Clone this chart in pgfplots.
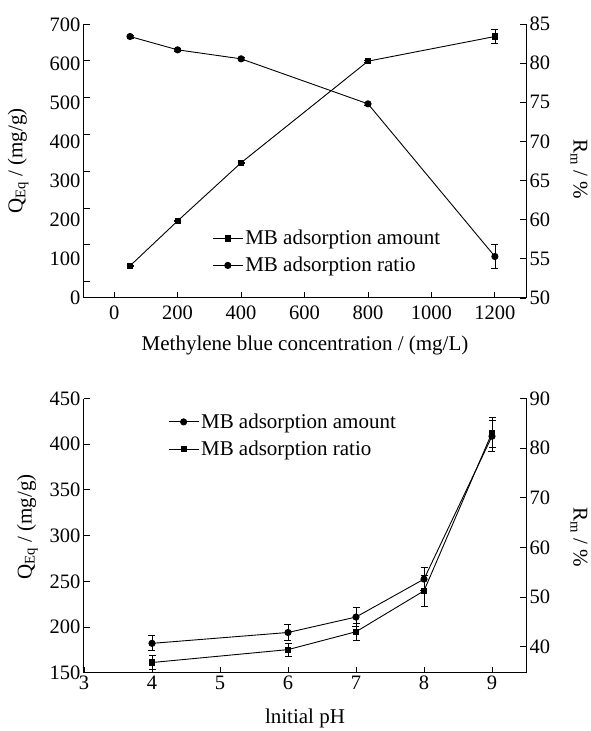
\documentclass[border=0pt]{standalone}
\usepackage{fontspec}
\setmainfont{Liberation Serif}
\usepackage{pgfplots}
\pgfplotsset{compat=1.18}
\begin{document}
\begin{tikzpicture}
\path[use as bounding box] (0pt,0pt) rectangle (590pt,731pt);
\pgfplotsset{
  base/.style={
    scale only axis, width=442pt, height=274pt,
    anchor=south west,
    axis line style={-, line width=1pt, black},
    tick align=inside,
    major tick length=6pt,
    tick style={line width=0.9pt, black},
    /pgf/number format/assume math mode=true,
    /pgf/number format/1000 sep={},
    scaled ticks=false,
    tick label style={font=\fontsize{20.5}{24}\selectfont},
    label style={font=\fontsize{21}{25}\selectfont},
    legend style={font=\fontsize{21}{25}\selectfont, draw=none, fill=none,
      inner xsep=0pt, inner ysep=0pt, row sep=7pt, anchor=north west},
    legend cell align=left,
    legend image code/.code={\draw[mark repeat=2,mark phase=2,##1] plot coordinates {(0pt,0pt) (15pt,0pt) (30pt,0pt)};},
  },
  sq/.style={black, line width=0.9pt, mark=square*, mark size=2.6pt,
    error bars/.cd, y dir=both, y explicit,
    error bar style={line width=0.8pt, black},
    error mark options={rotate=90, mark size=3.5pt, line width=0.8pt, black}},
  ci/.style={black, line width=0.9pt, mark=*, mark size=3.1pt,
    error bars/.cd, y dir=both, y explicit,
    error bar style={line width=0.8pt, black},
    error mark options={rotate=90, mark size=3.5pt, line width=0.8pt, black}},
}
% ---------- top panel ----------
\begin{axis}[base, at={(84pt,433pt)},
  xmin=-95, xmax=1298, ymin=-44.3, ymax=700,
  axis x line*=bottom, axis y line*=left,
  xtick={0,200,...,1200},
  xticklabel style={yshift=-4pt},
  ytick={0,100,...,700}, yticklabels={},
  extra y ticks={-43.5,62.3,168.1,273.9,379.7,485.5,591.3,697.1},
  extra y tick labels={0,100,200,300,400,500,600,700},
  extra y tick style={major tick length=0pt},
  xlabel={Methylene blue concentration / (mg/L)},
  xlabel style={at={(axis description cs:0.5,-0.172)}, anchor=center},
  ylabel={Q\textsubscript{Eq} / (mg/g)},
  ylabel style={at={(axis description cs:-0.149,0.5)}, anchor=center, rotate=0},
]
\addplot[sq] coordinates {
  (50,43) +- (0,2)
  (200,165) +- (0,2)
  (400,323) +- (0,2)
  (800,599) +- (0,3)
  (1200,666) +- (0,19)
};
\end{axis}
\begin{axis}[base, at={(84pt,433pt)},
  xmin=-95, xmax=1298, ymin=50, ymax=85,
  axis x line=none, axis y line*=right,
  ytick={50,55,...,85},
  ylabel={R\textsubscript{m} / \%},
  ylabel style={at={(axis description cs:1.12,0.47)}, anchor=center, rotate=180},
  legend style={at={(rel axis cs:0.29,0.255)}},
]
\addlegendimage{sq}
\addlegendentry{MB adsorption amount}
\addplot[ci] coordinates {
  (50,83.4) +- (0,0.2)
  (200,81.7) +- (0,0.2)
  (400,80.55) +- (0,0.2)
  (800,74.8) +- (0,0.2)
  (1200,55.3) +- (0,1.5)
};
\addlegendentry{MB adsorption ratio}
\end{axis}
% ---------- bottom panel ----------
\begin{axis}[base, at={(84pt,58.3pt)}, height=274.2pt,
  xmin=3, xmax=9.5, ymin=150, ymax=450,
  axis x line*=bottom, axis y line*=left,
  xtick={3,4,...,9},
  ytick={150,200,...,450},
  xlabel={lnitial pH},
  xlabel style={at={(axis description cs:0.5,-0.168)}, anchor=center},
  ylabel={Q\textsubscript{Eq} / (mg/g)},
  ylabel style={at={(axis description cs:-0.128,0.531)}, anchor=center},
]
\addplot[ci] coordinates {
  (4,182.1) +- (0,8.2)
  (6,194) +- (0,8.4)
  (7,210.9) +- (0,10.6)
  (8,252.4) +- (0,12.4)
  (9,408.7) +- (0,17)
};
\end{axis}
\begin{axis}[base, at={(84pt,58.3pt)}, height=274.2pt,
  xmin=3, xmax=9.5, ymin=34.75, ymax=90,
  axis x line=none, axis y line*=right,
  ytick={40,50,...,90},
  ylabel={R\textsubscript{m} / \%},
  ylabel style={at={(axis description cs:1.12,0.495)}, anchor=center, rotate=180},
  legend style={at={(rel axis cs:0.19,0.952)}},
]
\addlegendimage{ci}
\addlegendentry{MB adsorption amount}
\addplot[sq] coordinates {
  (4,36.8) +- (0,1.45)
  (6,39.4) +- (0,1.3)
  (7,43) +- (0,1.7)
  (8,51.25) +- (0,3.2)
  (9,83.1) +- (0,3.0)
};
\addlegendentry{MB adsorption ratio}
\end{axis}
\end{tikzpicture}
\end{document}
